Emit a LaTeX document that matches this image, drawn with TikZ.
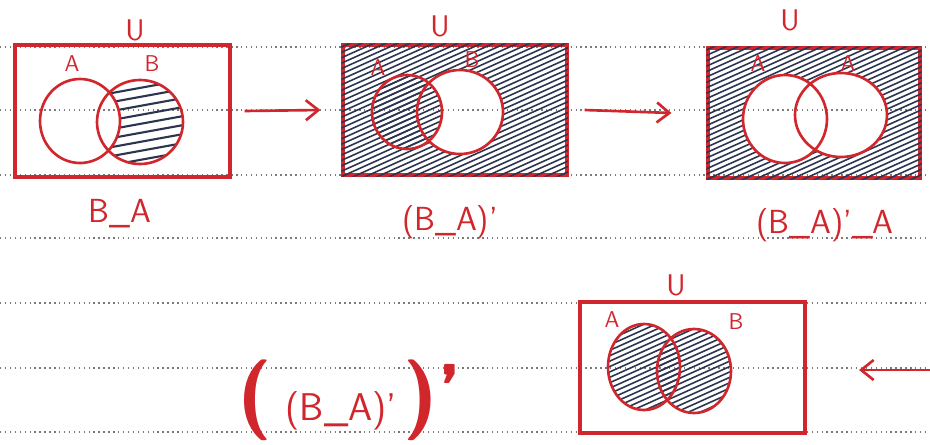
\documentclass[tikz,border=0pt]{standalone}
\usepackage{tikz}
\usetikzlibrary{arrows.meta,positioning}
\definecolor{inkred}{HTML}{D0262C}
\definecolor{inkblue}{HTML}{2C3550}
\definecolor{rule}{HTML}{7A7A7A}
\newcommand\hatchpanel[2]{\foreach \t in {-310,-298,...,250} \draw[hatch] (#1+\t-300,#2+135) -- (#1+\t+300,#2-135);}

\begin{document}
\begin{tikzpicture}[x=0.02cm,y=-0.02cm,
    panel/.style={draw=inkred,line width=1.8pt,inner sep=0pt},
    ring/.style={draw=inkred,line width=1.5pt},
    hatch/.style={draw=inkblue,line width=0.9pt},
    lab/.style={text=inkred,font=\sffamily\fontsize{13}{13}\selectfont},
    ulab/.style={text=inkred,font=\sffamily\fontsize{17}{17}\selectfont},
    caption/.style={text=inkred,font=\sffamily\fontsize{19}{19}\selectfont},
    arr/.style={-{Straight Barb[length=2.5mm,width=4mm]},draw=inkred,line width=1.5pt}
]
\useasboundingbox (0,0) rectangle (930,444);
% ruled paper
\foreach \y in {47,110,175,238,303,368,432}
  \draw[rule,dotted,line width=0.8pt] (0,\y) -- (930,\y);

% panels
\node[panel,minimum width=4.3cm,minimum height=2.64cm] (p1) at (122.5,111) {};
\node[panel,minimum width=4.48cm,minimum height=2.6cm] (p2) at (455,110) {};
\node[panel,minimum width=4.24cm,minimum height=2.6cm] (p3) at (814,113) {};
\node[panel,minimum width=4.5cm,minimum height=2.62cm] (p4) at (692.5,367.5) {};

\coordinate (a1) at (80,121);  \coordinate (b1) at (140,122);
\coordinate (a2) at (407,112); \coordinate (b2) at (460,112);
\coordinate (a3) at (785,119); \coordinate (b3) at (841,115);
\coordinate (a4) at (644,367); \coordinate (b4) at (694,371);

% B - A
\begin{scope}
  \clip (b1) ellipse [x radius=43,y radius=42];
  \begin{scope}[even odd rule]
    \clip (p1.south west) rectangle (p1.north east) (a1) ellipse [x radius=40,y radius=42];
    \foreach \t in {70,79,...,190} \draw[hatch,line width=1.2pt] (90,\t) -- (200,\t-20);
  \end{scope}
\end{scope}

% (B - A)'
\begin{scope}
  \clip (p2.south west) rectangle (p2.north east);
  \begin{scope}
    \clip (a2) ellipse [x radius=35,y radius=37];
    \hatchpanel{343}{175}
  \end{scope}
  \begin{scope}[even odd rule]
    \clip (p2.south west) rectangle (p2.north east) (b2) ellipse [x radius=43,y radius=42];
    \hatchpanel{343}{175}
  \end{scope}
\end{scope}

% (B - A)' - A
\begin{scope}[even odd rule]
  \clip (p3.south west) rectangle (p3.north east) (a3) ellipse [x radius=42,y radius=44];
  \clip (p3.south west) rectangle (p3.north east) (b3) ellipse [x radius=46,y radius=42];
  \hatchpanel{708}{178}
\end{scope}

% ((B - A)')'
\begin{scope}
  \clip (a4) ellipse [x radius=36,y radius=43];
  \hatchpanel{580}{433}
\end{scope}
\begin{scope}
  \clip (b4) ellipse [x radius=37,y radius=42];
  \hatchpanel{580}{433}
\end{scope}

% circles
\draw[ring] (a1) ellipse [x radius=40,y radius=42];
\draw[ring] (b1) ellipse [x radius=43,y radius=42];
\draw[ring] (a2) ellipse [x radius=35,y radius=37];
\draw[ring] (b2) ellipse [x radius=43,y radius=42];
\draw[ring] (a3) ellipse [x radius=42,y radius=44];
\draw[ring] (b3) ellipse [x radius=46,y radius=42];
\draw[ring] (a4) ellipse [x radius=36,y radius=43];
\draw[ring] (b4) ellipse [x radius=37,y radius=42];

% set labels
\node[lab] (la1) at (72,64) {A};
\node[lab] (lb1) at (152,64) {B};
\node[lab] (la2) at (378,68) {A};
\node[lab] (lb2) at (472,60) {B};
\node[lab] (la3) at (758,64) {A};
\node[lab] (lb3) at (848,64) {A};
\node[lab] (la4) at (612,320) {A};
\node[lab] (lb4) at (736,322) {B};

\node[ulab] (u1) at (135,30) {U};
\node[ulab] (u2) at (440,26) {U};
\node[ulab] (u3) at (790,20) {U};
\node[ulab] (u4) at (676,285) {U};

% captions
\node[caption] (c1) at (120,214) {B\_A};
\node[caption] (c2) at (450,222) {(B\_A)'};
\node[caption] (c3) at (825,225) {(B\_A)'\_A};
\node[text=inkred,font=\sffamily] (c4) at (350,400)
  {\fontsize{46}{46}\selectfont\textbf{(}\,\fontsize{22}{22}\selectfont(B\_A)'\,\fontsize{46}{46}\selectfont\textbf{)'}};

% arrows
\coordinate (edge) at (930,370);
\draw[arr] ([xshift=0.26cm]p1.east) -- ([xshift=-0.42cm]p2.west);
\draw[arr] ([xshift=0.32cm]p2.east) -- ([xshift=-0.7cm]p3.west);
\draw[arr] (edge) -- ([xshift=1.05cm]p4.east |- edge);
\end{tikzpicture}
\end{document}
